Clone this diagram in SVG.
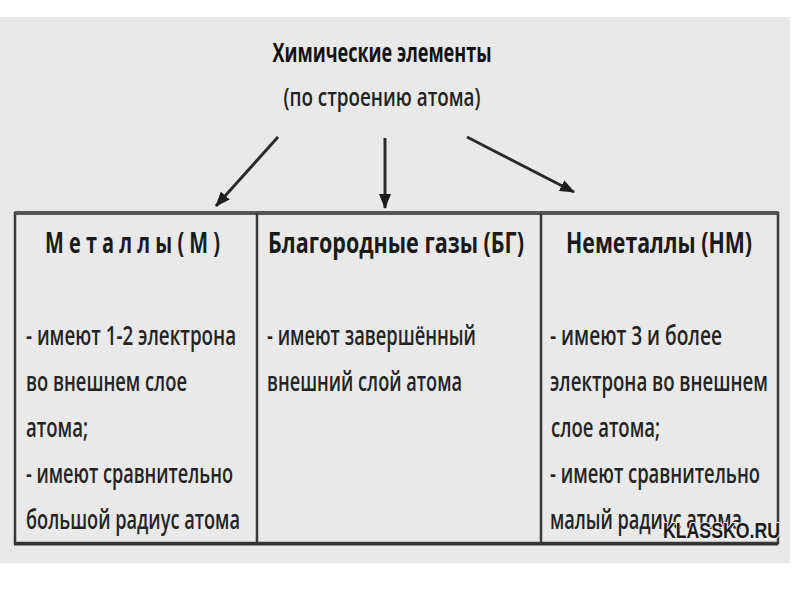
<svg xmlns="http://www.w3.org/2000/svg" width="800" height="600" viewBox="0 0 800 600">
<defs>
<style>
text{font-family:"Open Sans","Liberation Sans",sans-serif;fill:#222;}
.title{font-size:26px;font-weight:700;fill:#111;}
.sub{font-size:25px;font-weight:600;fill:#222;}
.head{font-size:28px;font-weight:700;fill:#1a1a1a;}
.body{font-size:27px;font-weight:600;fill:#242424;}
.frame{fill:none;stroke:#3a3a3a;stroke-width:2.5;}
.conn{stroke:#2a2a2a;stroke-width:3;fill:none;}
.wm{font-family:"Liberation Sans",sans-serif;font-size:22px;font-weight:700;fill:#1a1a1a;stroke:#f4f4f4;stroke-width:2;paint-order:stroke;}
</style>
<marker id="ah" viewBox="0 0 15 12" refX="14" refY="6" markerWidth="15" markerHeight="12" markerUnits="userSpaceOnUse" orient="auto">
<path d="M0,0 L15,6 L0,12 Z" fill="#1e1e1e"/>
</marker>
</defs>
<rect x="0" y="0" width="800" height="600" fill="#ffffff"/>
<rect x="0" y="17" width="790" height="546" fill="#e9e9e9"/>

<g id="root">
<text class="title" x="382" y="62" text-anchor="middle" textLength="219" lengthAdjust="spacingAndGlyphs">Химические элементы</text>
<text class="sub" x="382" y="106" text-anchor="middle" textLength="197" lengthAdjust="spacingAndGlyphs">(по строению атома)</text>
</g>

<g id="connectors">
<line class="conn" x1="278" y1="137" x2="216" y2="206" marker-end="url(#ah)"/>
<line class="conn" x1="385" y1="138" x2="385" y2="208" marker-end="url(#ah)"/>
<line class="conn" x1="467" y1="137" x2="574" y2="192" marker-end="url(#ah)"/>
</g>

<g id="table">
<rect class="frame" x="15" y="213" width="763" height="330"/>
<line x1="15" y1="213" x2="778" y2="213" stroke="#555" stroke-width="4"/>
<line x1="14" y1="544" x2="778" y2="544" stroke="#333" stroke-width="3"/>
<line class="frame" x1="257" y1="213" x2="257" y2="543"/>
<line class="frame" x1="541" y1="213" x2="541" y2="543"/>
</g>

<g id="metals">
<text class="head" x="45" y="253" textLength="175" lengthAdjust="spacingAndGlyphs">М е т а л л ы  ( М )</text>
<text class="body" x="26" y="345" textLength="210" lengthAdjust="spacingAndGlyphs">- имеют 1-2 электрона</text>
<text class="body" x="26" y="391" textLength="161" lengthAdjust="spacingAndGlyphs">во внешнем слое</text>
<text class="body" x="26" y="437" textLength="62" lengthAdjust="spacingAndGlyphs">атома;</text>
<text class="body" x="26" y="483" textLength="207" lengthAdjust="spacingAndGlyphs">- имеют сравнительно</text>
<text class="body" x="26" y="529" textLength="214" lengthAdjust="spacingAndGlyphs">большой радиус атома</text>
</g>

<g id="noble-gases">
<text class="head" x="268" y="253" textLength="256" lengthAdjust="spacingAndGlyphs">Благородные  газы  (БГ)</text>
<text class="body" x="267" y="345" textLength="209" lengthAdjust="spacingAndGlyphs">- имеют завершённый</text>
<text class="body" x="267" y="391" textLength="195" lengthAdjust="spacingAndGlyphs">внешний слой атома</text>
</g>

<g id="nonmetals">
<text class="head" x="566" y="253" textLength="186" lengthAdjust="spacingAndGlyphs">Неметаллы (НМ)</text>
<text class="body" x="550" y="345" textLength="172" lengthAdjust="spacingAndGlyphs">- имеют 3 и более</text>
<text class="body" x="550" y="391" textLength="218" lengthAdjust="spacingAndGlyphs">электрона во внешнем</text>
<text class="body" x="551" y="437" textLength="109" lengthAdjust="spacingAndGlyphs">слое атома;</text>
<text class="body" x="550" y="483" textLength="210" lengthAdjust="spacingAndGlyphs">- имеют сравнительно</text>
<text class="body" x="550" y="529" textLength="192" lengthAdjust="spacingAndGlyphs">малый радиус атома</text>
</g>

<text class="wm" x="663" y="538" textLength="117" lengthAdjust="spacingAndGlyphs">KLASSKO.RU</text>
</svg>
